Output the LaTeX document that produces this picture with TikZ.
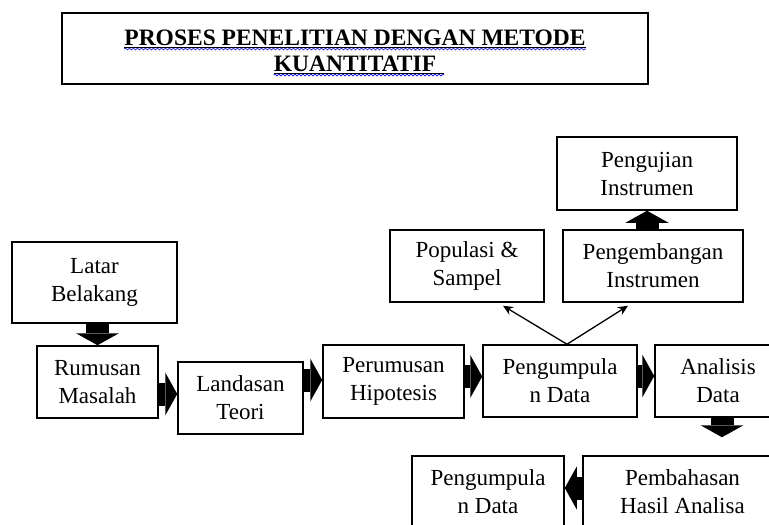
\documentclass[tikz,border=0pt]{standalone}
\usepackage{fontspec}
\setmainfont{Liberation Serif}
\usetikzlibrary{arrows.meta,calc,decorations.pathmorphing}
\begin{document}
\begin{tikzpicture}[x=1pt,y=-1pt,
  box/.style={draw,line width=1.5pt,align=center,inner sep=0pt,font=\fontsize{23}{28}\selectfont},
  blockarrow/.style={line width=23pt,-{Triangle[length=12pt,width=43pt,line width=0pt]}},
  thinarrow/.style={line width=1.3pt,-{Stealth[length=10pt,width=9pt]}},
  titletext/.style={font=\bfseries\fontsize{23.5}{28}\selectfont,inner sep=0pt,anchor=base},
  wave/.style={draw=blue!85!black,line width=0.6pt,decorate,decoration={snake,segment length=4pt,amplitude=1pt}}]
\useasboundingbox (0,0) rectangle (769,525);
\fill[white] (0,0) rectangle (769,525);
\clip (0,0) rectangle (769,525);

% title
\node[draw,line width=2pt,minimum width=586pt,minimum height=71pt] (tbox) at (355,48.5) {};
\node[titletext] (t1) at (355,45) {PROSES PENELITIAN DENGAN METODE};
\node[titletext] (t2) at (355,71) {KUANTITATIF};
\draw[line width=0.9pt] ([yshift=-2pt]t1.base west) -- ([yshift=-2pt]t1.base east);
\draw[wave] ([yshift=-4pt]t1.base west) -- ([yshift=-4pt]t1.base east);
\draw[line width=0.9pt] ([yshift=-2pt]t2.base west) -- ([yshift=-2pt,xshift=8pt]t2.base east);
\draw[wave] ([yshift=-4pt]t2.base west) -- ([yshift=-4pt,xshift=8pt]t2.base east);

% boxes
\node[box,minimum width=165pt,minimum height=81pt] (lat) at (94.5,282.5) {Latar\\Belakang};
\node[box,minimum width=121pt,minimum height=72pt] (rum) at (97.5,382) {Rumusan\\Masalah};
\node[box,minimum width=125pt,minimum height=72pt] (lan) at (240.5,398) {Landasan\\Teori};
\node[box,minimum width=141pt,minimum height=73pt] (per) at (393.5,381.5) {Perumusan\\Hipotesis};
\node[box,minimum width=154pt,minimum height=72pt] (pdat) at (560,381) {Pengumpula\\n Data};
\node[box,minimum width=126pt,minimum height=72pt] (ana) at (718,381) {Analisis\\Data};
\node[box,minimum width=154pt,minimum height=72pt] (pop) at (467,266) {Populasi \&\\Sampel};
\node[box,minimum width=180pt,minimum height=72pt] (dev) at (653,266) {Pengembangan\\Instrumen};
\node[box,minimum width=180pt,minimum height=73pt] (tst) at (647,173.5) {Pengujian\\Instrumen};
\node[box,minimum width=199pt,minimum height=72pt] (pem) at (682.5,492) {Pembahasan\\Hasil Analisa};
\node[box,minimum width=152pt,minimum height=72pt] (pd2) at (488,492) {Pengumpula\\n Data};

% block arrows
\draw[blockarrow] (rum.north |- lat.south) -- (rum.north);
\draw[blockarrow] ([yshift=-12pt]rum.east) -- ([yshift=-12pt]rum.east -| lan.west);
\draw[blockarrow] ([yshift=18pt]lan.east) -- ([yshift=18pt]lan.east -| per.west);
\draw[blockarrow] ([yshift=5pt]per.east) -- ([yshift=5pt]per.east -| pdat.west);
\draw[blockarrow] ([yshift=5pt]pdat.east) -- ([yshift=5pt]pdat.east -| ana.west);
\draw[blockarrow] (tst.south |- dev.north) -- (tst.south);
\draw[blockarrow,shorten >=18pt] ([xshift=4pt]ana.south) -- ([xshift=4pt]ana.south |- pem.north);
\draw[blockarrow] ([yshift=4pt]pem.west) -- ([yshift=4pt]pem.west -| pd2.east);

% thin arrows
\draw[thinarrow] ([xshift=7pt]pdat.north) -- ([xshift=36pt,yshift=-3pt]pop.south);
\draw[thinarrow] ([xshift=7pt]pdat.north) -- ([xshift=-25pt,yshift=-3pt]dev.south);
\end{tikzpicture}
\end{document}
